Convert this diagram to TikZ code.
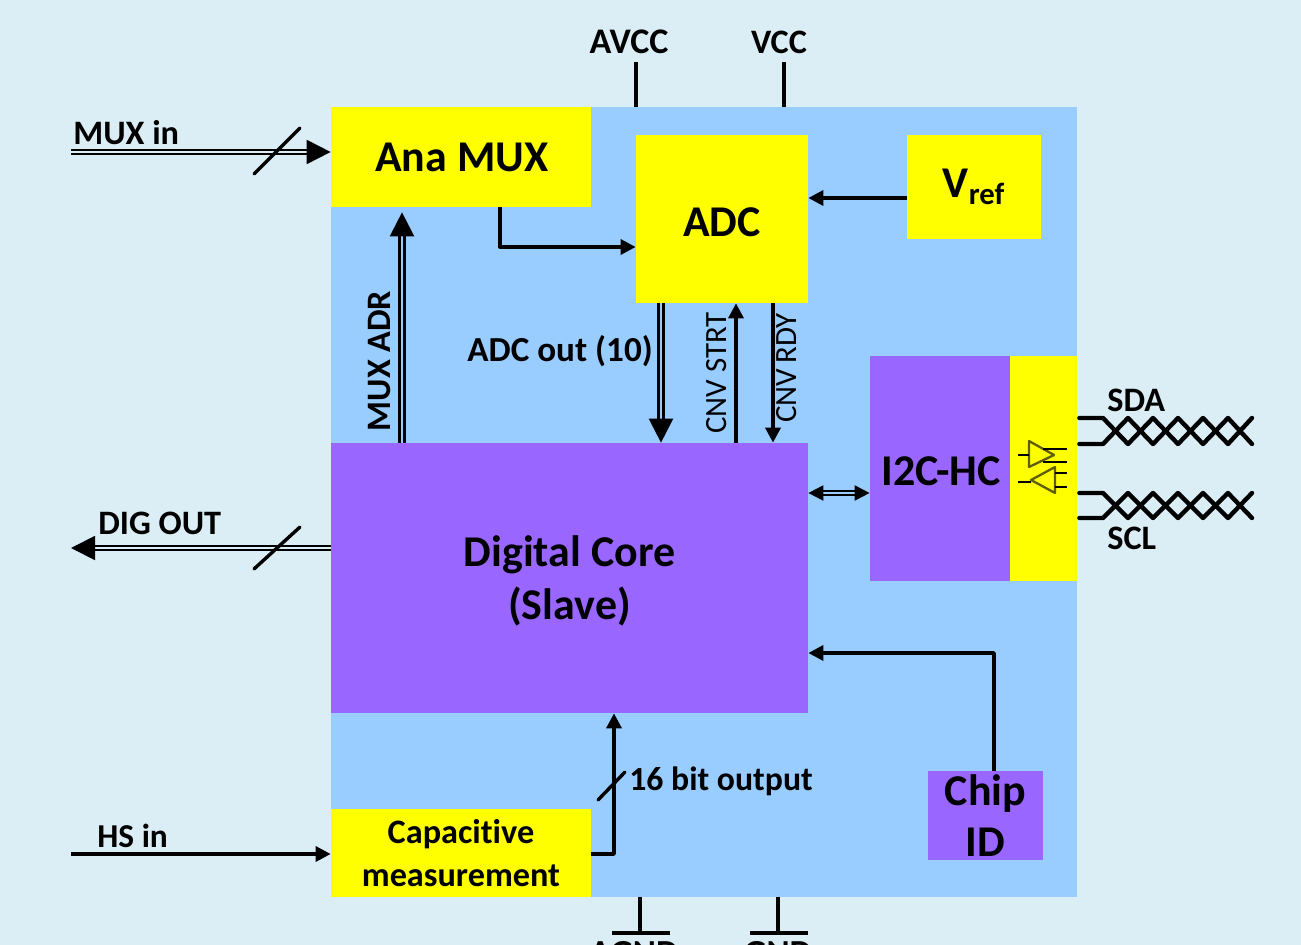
\documentclass[tikz,border=0pt]{standalone}
\usepackage{fontspec}
\setmainfont[Ligatures={TeX,NoCommon}]{Carlito}
\usetikzlibrary{arrows.meta}
\definecolor{pagebg}{HTML}{DCEEF5}
\definecolor{chipblue}{HTML}{99CCFF}
\definecolor{corepurple}{HTML}{9966FF}
\definecolor{boxyellow}{HTML}{FFFF00}
\definecolor{gateolive}{HTML}{5E5E08}
\def\px{0.02cm}
\newcommand{\lowertext}[1]{\raisebox{-1.7pt}[\height][\depth]{#1}}
\begin{document}
\begin{tikzpicture}[x=0.02cm,y=-0.02cm,line join=round,>={Triangle[length=15*\px,width=15*\px]}]
	\tikzset{every node/.style={inner sep=0pt,font=\bfseries\fontsize{19.5}{23}\selectfont},
		yellowbox/.style={fill=boxyellow,align=center},
		purplebox/.style={fill=corepurple,align=center},
		bigtext/.style={font=\bfseries\fontsize{25}{29}\selectfont},
		wire/.style={line width=3.4*\px},
		bus/.style={line width=1.3pt,double distance=2.6*\px,double=#1},
		bus/.default=chipblue,
		bighead/.style={>={Triangle[length=24*\px,width=24*\px]}},
		slash/.style={line width=3.4*\px,line cap=round},
		pair/.style={line width=4.4*\px,line cap=round,shorten <=2*\px}}
	\fill[pagebg,use as bounding box] (0,0) rectangle (1301,945);
	% chip body and blocks
	\node[fill=chipblue,minimum width=746*\px,minimum height=790*\px] (chip) at (704,502) {};
	\node[yellowbox,bigtext,minimum width=260*\px,minimum height=100*\px] (anamux) at (461,157) {\hspace{1pt}Ana MUX};
	\node[yellowbox,bigtext,minimum width=172*\px,minimum height=168*\px] (adc) at (722,219) {\lowertext{ADC}};
	\node[yellowbox,bigtext,minimum width=134*\px,minimum height=104*\px] (vref) at (974,187) {V\textsubscript{ref}};
	\node[purplebox,bigtext,minimum width=477*\px,minimum height=270*\px] (core) at (569.5,578) {\lowertext{Digital Core}\\[1pt]\lowertext{(Slave)}};
	\node[purplebox,bigtext,minimum width=140*\px,minimum height=225*\px] (i2c) at (940,468.5) {\lowertext{\hspace{1pt}I2C-HC}};
	\node[yellowbox,minimum width=67*\px,minimum height=225*\px] (iobuf) at (1043.5,468.5) {};
	\node[yellowbox,minimum width=260*\px,minimum height=88*\px,font=\bfseries\fontsize{19.5}{24.5}\selectfont] (capm) at (461,853) {Capacitive\\measurement};
	\node[purplebox,minimum width=115*\px,minimum height=89*\px,font=\bfseries\fontsize{25}{29}\selectfont] (chipid) at (985.5,815.5) {Chip\hspace{3pt}\\ID};
	% free ends
	\coordinate (muxin) at (71,152);
	\coordinate (digout) at (71,548);
	\coordinate (hsin) at (71,854);
	\coordinate (avcc) at (636,62);
	\coordinate (vcc) at (784,62);
	\coordinate (agnd) at (640,933);
	\coordinate (gnd) at (778,933);
	% outside connectors
	\draw[bus=pagebg,line width=1.1pt,->,bighead] (muxin) -- (muxin -| anamux.west);
	\draw[bus=pagebg,line width=1.1pt,->,bighead] (digout -| core.west) -- (digout);
	\draw[wire,->] (hsin) -- (hsin -| capm.west);
	\draw[wire] (avcc) -- (avcc |- chip.north);
	\draw[wire] (vcc) -- (vcc |- chip.north);
	\draw[wire] (agnd) -- (agnd |- chip.south) (612,933) -- (670,933);
	\draw[wire] (gnd) -- (gnd |- chip.south) (750,933) -- (808,933);
	% inside connectors
	\draw[wire,->] (500,0 |- anamux.south) |- (adc.west |- 0,247);
	\draw[wire,->] (vref.west |- 0,198) -- (adc.east |- 0,198);
	\draw[bus,->,bighead,shorten >=5*\px] (402,0 |- core.north) -- (402,0 |- anamux.south);
	\draw[bus,->,bighead] (661,0 |- adc.south) -- (661,0 |- core.north);
	\draw[wire,->] (736,0 |- core.north) -- (736,0 |- adc.south);
	\draw[wire,->] (773,0 |- adc.south) -- (773,0 |- core.north);
	\draw[bus,line width=1.1pt,<->] (core.east |- 0,493) -- (i2c.west |- 0,493);
	\draw[wire,->] (994,0 |- chipid.north) |- (core.east |- 0,653);
	\draw[wire,->] (capm.east |- 0,854) -| (614,0 |- core.south);
	\draw[slash] (254,174) -- (300,128) (254,569) -- (300,527) (598,800) -- (625,772);
	% twisted pairs
	\foreach \ya/\yb in {418/444,493/518}{
		\draw[pair] (iobuf.east |- 0,\ya) -- (1103,\ya) -- (1128,\yb) -- (1153,\ya) -- (1178,\yb) -- (1203,\ya) -- (1228,\yb) -- (1252,\ya);
		\draw[pair] (iobuf.east |- 0,\yb) -- (1103,\yb) -- (1128,\ya) -- (1153,\yb) -- (1178,\ya) -- (1203,\yb) -- (1228,\ya) -- (1252,\yb);
	}
	% buffers
	\draw[gateolive,line width=1.3pt] (1029,441) -- (1029,467) -- (1054,455) -- cycle;
	\draw[gateolive,line width=1.3pt] (1055,467) -- (1055,493) -- (1031,480) -- cycle;
	\draw[line width=.8pt] (1018,455) -- (1029,455) (1043,449) -- (1067,449) (1043,462) -- (1067,462)
		(1018,482) -- (1031,482) (1055,473) -- (1067,473) (1055,487) -- (1067,487);
	% labels
	\node[anchor=west] (muxinlbl) at (73,133) {MUX in};
	\node[anchor=west] (digoutlbl) at (98,523) {DIG OUT};
	\node[anchor=west,font=\bfseries\fontsize{19}{23}\selectfont] (hsinlbl) at (97,836) {HS in};
	\node[font=\bfseries\fontsize{20.5}{23}\selectfont] (avcclbl) at (629,42) {AVCC};
	\node (vcclbl) at (779,42) {VCC};
	\node[font=\bfseries\fontsize{20}{23}\selectfont] (agndlbl) at (634,953) {AGND};
	\node[font=\bfseries\fontsize{20}{23}\selectfont] (gndlbl) at (778,953) {GND};
	\node[anchor=west] (sdalbl) at (1107,400) {SDA};
	\node[anchor=west] (scllbl) at (1107,538) {SCL};
	\node[anchor=west,font=\bfseries\fontsize{20}{23}\selectfont] (adcoutlbl) at (467,351) {ADC out (10)};
	\node[rotate=90] (muxadrlbl) at (380,361) {MUX ADR};
	\node[rotate=90,font=\fontsize{17.6}{20}\selectfont] (cnvstrtlbl) at (717,373) {CNV STRT};
	\node[rotate=90,font=\fontsize{17.6}{20}\selectfont] (cnvrdylbl) at (787,368) {CNV\hspace{-1pt} RDY};
	\node[anchor=west,font=\bfseries\fontsize{19.2}{23}\selectfont] (bitslbl) at (629,781) {16 bit output};
\end{tikzpicture}
\end{document}
